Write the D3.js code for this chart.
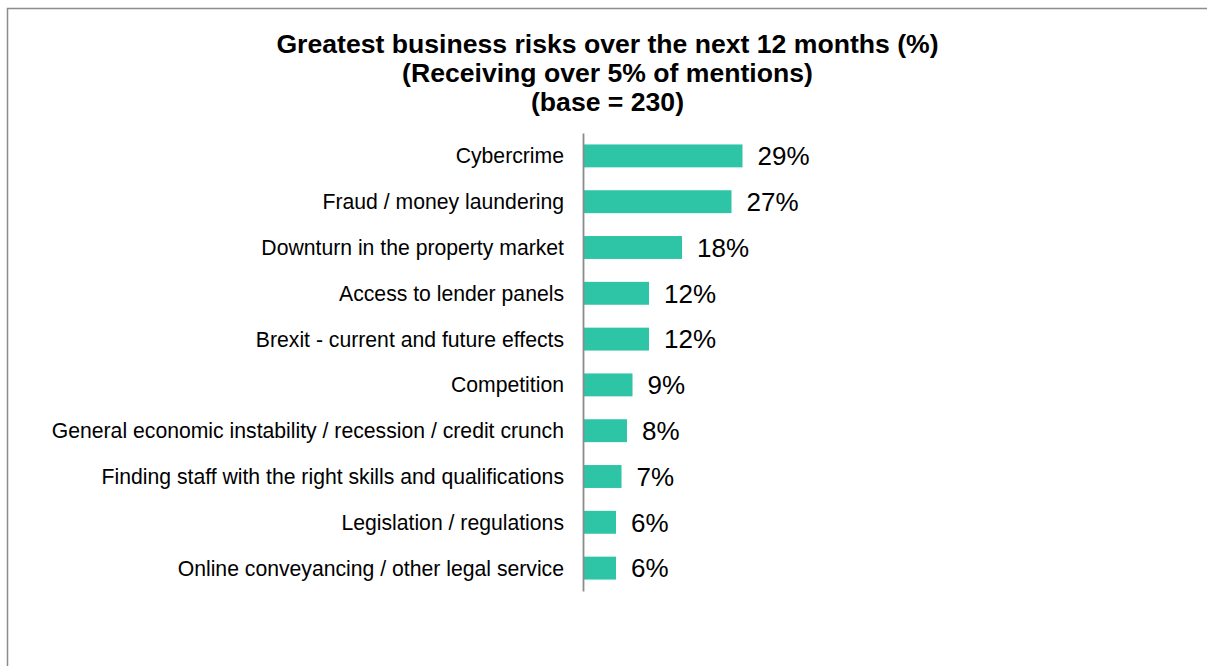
<!DOCTYPE html>
<html>
<head>
<meta charset="utf-8">
<script src="https://cdn.jsdelivr.net/npm/d3@7"></script>
<style>
  html, body { margin: 0; padding: 0; background: #fff; }
  svg { display: block; }
  text { font-family: "Liberation Sans", Arial, sans-serif; fill: #000; }
</style>
</head>
<body>
<svg id="chart" width="1207" height="666"></svg>
<script>
// Risk categories, top to bottom
const categories = [
  "Cybercrime",
  "Fraud / money laundering",
  "Downturn in the property market",
  "Access to lender panels",
  "Brexit - current and future effects",
  "Competition",
  "General economic instability / recession / credit crunch",
  "Finding staff with the right skills and qualifications",
  "Legislation / regulations",
  "Online conveyancing / other legal service"
];
// Share of mentions (%)
const values = [29, 27, 18, 12, 12, 9, 8, 7, 6, 6];

const titleLines = [
  "Greatest business risks over the next 12 months (%)",
  "(Receiving over 5% of mentions)",
  "(base = 230)"
];

const svg = d3.select("#chart");

// Frame
svg.append("rect")
  .attr("x", 7.5).attr("y", 8.5)
  .attr("width", 1220).attr("height", 680)
  .attr("fill", "none")
  .attr("stroke", "#8c8c8c")
  .attr("stroke-width", 1.5);

// Title
svg.append("text")
  .attr("x", 607.5)
  .attr("text-anchor", "middle")
  .style("font-weight", "bold")
  .style("font-size", "26.6px")
  .selectAll("tspan")
  .data(titleLines)
  .join("tspan")
  .attr("x", 607.5)
  .attr("y", (d, i) => 52.5 + i * 29.3)
  .text(d => d);

const axisX = 583;
const y = d3.scaleBand()
  .domain(categories)
  .range([133, 591])
  .paddingInner(0.5)
  .paddingOuter(0.25);

const x = d3.scaleLinear()
  .domain([0, 30])
  .range([axisX, axisX + 165]);

const data = categories.map((c, i) => ({ cat: c, val: values[i] }));

// Bars
svg.append("g")
  .selectAll("rect")
  .data(data)
  .join("rect")
  .attr("x", x(0))
  .attr("y", d => y(d.cat))
  .attr("width", d => x(d.val) - x(0))
  .attr("height", y.bandwidth())
  .attr("fill", "#2ec4a6");

// Category labels
svg.append("g")
  .selectAll("text")
  .data(data)
  .join("text")
  .attr("x", axisX - 19)
  .attr("y", d => y(d.cat) + y.bandwidth() / 2)
  .attr("dy", "0.35em")
  .attr("text-anchor", "end")
  .style("font-size", "21.2px")
  .text(d => d.cat);

// Value labels
svg.append("g")
  .selectAll("text")
  .data(data)
  .join("text")
  .attr("x", d => x(d.val) + 15)
  .attr("y", d => y(d.cat) + y.bandwidth() / 2)
  .attr("dy", "0.36em")
  .style("font-size", "26px")
  .text(d => d.val + "%");

// Vertical category axis
const axis = d3.axisLeft(y).tickSize(0).tickFormat("");
const axisG = svg.append("g")
  .attr("transform", `translate(${axisX},0)`)
  .call(axis);
axisG.select(".domain")
  .attr("stroke", "#8c8c8c")
  .attr("stroke-width", 1.8);
</script>
</body>
</html>
